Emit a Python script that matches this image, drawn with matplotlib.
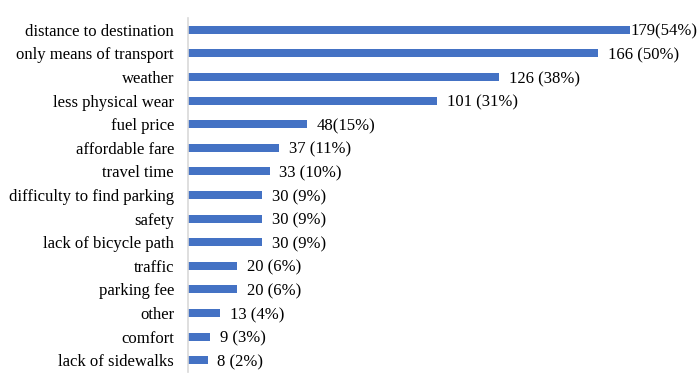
import matplotlib.pyplot as plt

plt.rcParams['font.family'] = ['Liberation Serif', 'DejaVu Serif']

reasons = ['distance to destination', 'only means of transport', 'weather',
           'less physical wear', 'fuel price', 'affordable fare', 'travel time',
           'difficulty to find parking', 'safety', 'lack of bicycle path',
           'traffic', 'parking fee', 'other', 'comfort', 'lack of sidewalks']
counts = [179, 166, 126, 101, 48, 37, 33, 30, 30, 30, 20, 20, 13, 9, 8]
labels = ['179(54%)', '166 (50%)', '126 (38%)', '101 (31%)', '48(15%)',
          '37 (11%)', '33 (10%)', '30 (9%)', '30 (9%)', '30 (9%)',
          '20 (6%)', '20 (6%)', '13 (4%)', '9 (3%)', '8 (2%)']

fig = plt.figure(figsize=(7, 3.9), dpi=100)
ax = fig.add_axes([188/700, 18/390, (690-188)/700, 354/390])

y = list(range(len(reasons)))
bars = ax.barh(y, counts, height=0.34, color='#4472C4')

for i, (b, lab) in enumerate(zip(bars, labels)):
    off = 0 if i == 0 else 7
    ax.annotate(lab, (b.get_width(), b.get_y() + b.get_height()/2),
                xytext=(off, 0), textcoords='offset points',
                ha='left', va='center_baseline', fontsize=12)

ax.set_yticks(y)
ax.set_yticklabels(reasons, fontsize=12)
ax.set_ylim(len(reasons) - 0.5, -0.5)
ax.set_xlim(0, (690-188)/2.47)
ax.tick_params(axis='y', length=0, pad=10)
ax.set_xticks([])
for s in ['top', 'right', 'bottom']:
    ax.spines[s].set_visible(False)
ax.spines['left'].set_color('#D9D9D9')
ax.spines['left'].set_linewidth(1.2)

fig.savefig('out.png', dpi=100)
